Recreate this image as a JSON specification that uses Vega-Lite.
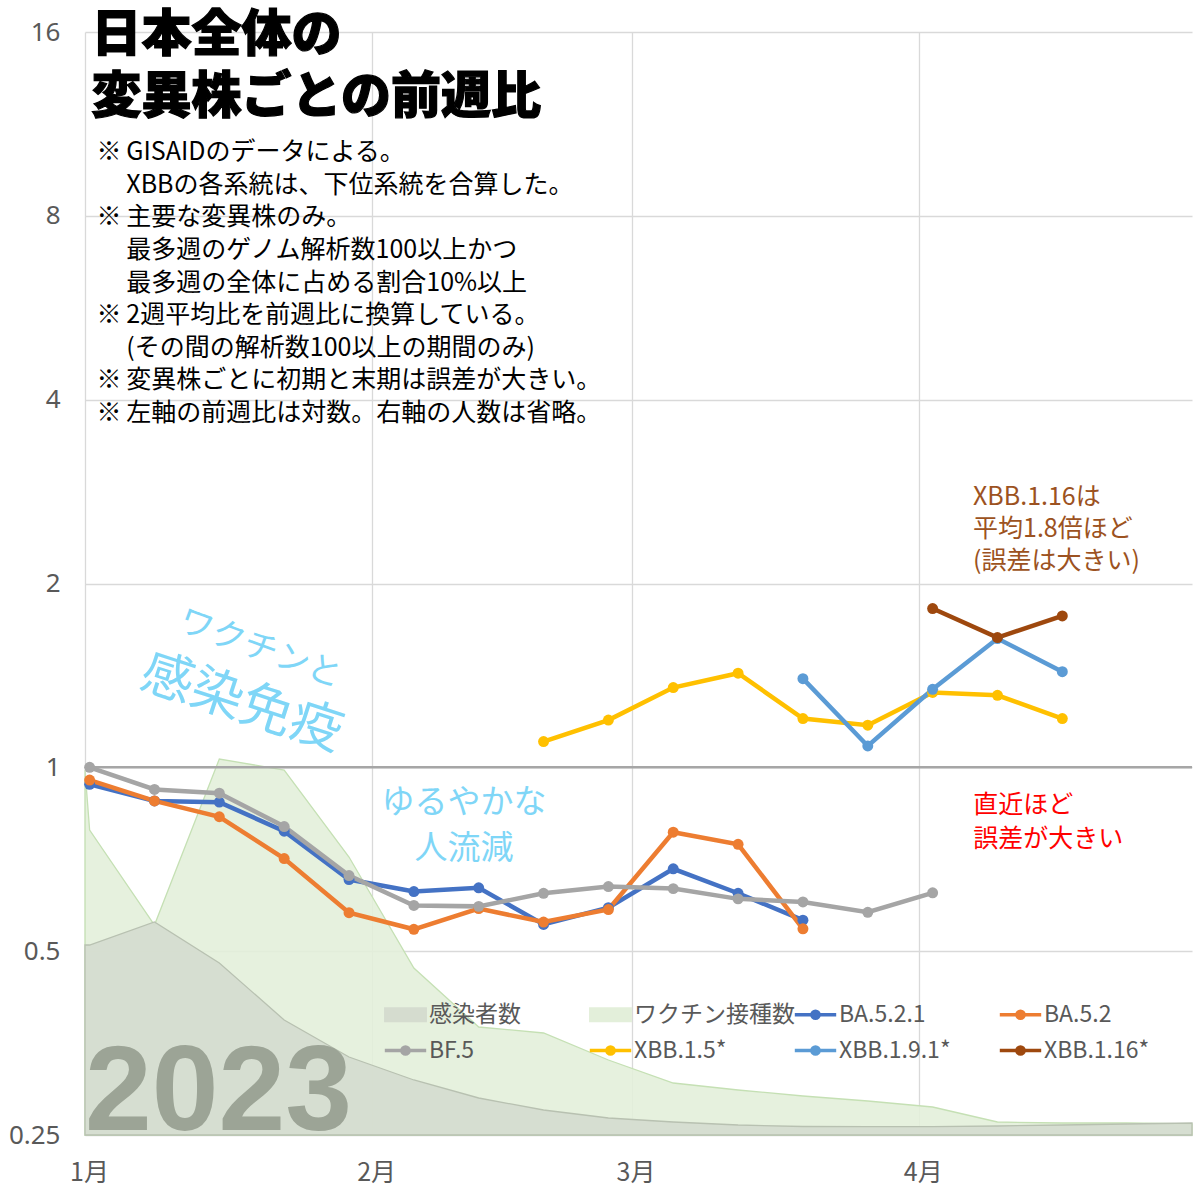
{
  "$schema": "https://vega.github.io/schema/vega-lite/v6.json",
  "width": 1107,
  "height": 1103,
  "autosize": {"type": "none"},
  "padding": {"left": 85, "top": 32, "right": 8, "bottom": 65},
  "background": "white",
  "config": {"view": {"stroke": null}, "font": "Noto Sans CJK JP"},
  "datasets": {
    "areas": [
      {"date": "2023-01-01T00:00:00", "series": "感染者数", "count": 190},
      {"date": "2023-01-01T12:00:00", "series": "感染者数", "count": 190},
      {"date": "2023-01-08T12:00:00", "series": "感染者数", "count": 213},
      {"date": "2023-01-15T12:00:00", "series": "感染者数", "count": 172},
      {"date": "2023-01-22T12:00:00", "series": "感染者数", "count": 115},
      {"date": "2023-01-29T12:00:00", "series": "感染者数", "count": 78},
      {"date": "2023-02-05T12:00:00", "series": "感染者数", "count": 55},
      {"date": "2023-02-12T12:00:00", "series": "感染者数", "count": 37},
      {"date": "2023-02-19T12:00:00", "series": "感染者数", "count": 25},
      {"date": "2023-02-26T12:00:00", "series": "感染者数", "count": 17},
      {"date": "2023-03-05T12:00:00", "series": "感染者数", "count": 13},
      {"date": "2023-03-12T12:00:00", "series": "感染者数", "count": 10},
      {"date": "2023-03-19T12:00:00", "series": "感染者数", "count": 8.5},
      {"date": "2023-03-26T12:00:00", "series": "感染者数", "count": 8.3},
      {"date": "2023-04-02T12:00:00", "series": "感染者数", "count": 8.3},
      {"date": "2023-04-09T12:00:00", "series": "感染者数", "count": 9},
      {"date": "2023-04-16T12:00:00", "series": "感染者数", "count": 10},
      {"date": "2023-04-23T12:00:00", "series": "感染者数", "count": 11},
      {"date": "2023-04-30T12:00:00", "series": "感染者数", "count": 12},
      {"date": "2023-01-01T00:00:00", "series": "ワクチン接種数", "count": 365},
      {"date": "2023-01-01T12:00:00", "series": "ワクチン接種数", "count": 305},
      {"date": "2023-01-08T12:00:00", "series": "ワクチン接種数", "count": 210},
      {"date": "2023-01-15T12:00:00", "series": "ワクチン接種数", "count": 376},
      {"date": "2023-01-22T12:00:00", "series": "ワクチン接種数", "count": 365},
      {"date": "2023-01-29T12:00:00", "series": "ワクチン接種数", "count": 278},
      {"date": "2023-02-05T12:00:00", "series": "ワクチン接種数", "count": 167},
      {"date": "2023-02-12T12:00:00", "series": "ワクチン接種数", "count": 108},
      {"date": "2023-02-19T12:00:00", "series": "ワクチン接種数", "count": 102},
      {"date": "2023-02-26T12:00:00", "series": "ワクチン接種数", "count": 75},
      {"date": "2023-03-05T12:00:00", "series": "ワクチン接種数", "count": 52},
      {"date": "2023-03-12T12:00:00", "series": "ワクチン接種数", "count": 45},
      {"date": "2023-03-19T12:00:00", "series": "ワクチン接種数", "count": 39},
      {"date": "2023-03-26T12:00:00", "series": "ワクチン接種数", "count": 34},
      {"date": "2023-04-02T12:00:00", "series": "ワクチン接種数", "count": 28},
      {"date": "2023-04-09T12:00:00", "series": "ワクチン接種数", "count": 13},
      {"date": "2023-04-16T12:00:00", "series": "ワクチン接種数", "count": 12},
      {"date": "2023-04-23T12:00:00", "series": "ワクチン接種数", "count": 12},
      {"date": "2023-04-30T12:00:00", "series": "ワクチン接種数", "count": 11}
    ],
    "lines": [
      {"date": "2023-01-01T12:00:00", "series": "BA.5.2.1", "ratio": 0.938},
      {"date": "2023-01-08T12:00:00", "series": "BA.5.2.1", "ratio": 0.881},
      {"date": "2023-01-15T12:00:00", "series": "BA.5.2.1", "ratio": 0.877},
      {"date": "2023-01-22T12:00:00", "series": "BA.5.2.1", "ratio": 0.786},
      {"date": "2023-01-29T12:00:00", "series": "BA.5.2.1", "ratio": 0.655},
      {"date": "2023-02-05T12:00:00", "series": "BA.5.2.1", "ratio": 0.626},
      {"date": "2023-02-12T12:00:00", "series": "BA.5.2.1", "ratio": 0.635},
      {"date": "2023-02-19T12:00:00", "series": "BA.5.2.1", "ratio": 0.553},
      {"date": "2023-02-26T12:00:00", "series": "BA.5.2.1", "ratio": 0.589},
      {"date": "2023-03-05T12:00:00", "series": "BA.5.2.1", "ratio": 0.682},
      {"date": "2023-03-12T12:00:00", "series": "BA.5.2.1", "ratio": 0.622},
      {"date": "2023-03-19T12:00:00", "series": "BA.5.2.1", "ratio": 0.562},
      {"date": "2023-01-01T12:00:00", "series": "BA.5.2", "ratio": 0.953},
      {"date": "2023-01-08T12:00:00", "series": "BA.5.2", "ratio": 0.881},
      {"date": "2023-01-15T12:00:00", "series": "BA.5.2", "ratio": 0.830},
      {"date": "2023-01-22T12:00:00", "series": "BA.5.2", "ratio": 0.709},
      {"date": "2023-01-29T12:00:00", "series": "BA.5.2", "ratio": 0.578},
      {"date": "2023-02-05T12:00:00", "series": "BA.5.2", "ratio": 0.543},
      {"date": "2023-02-12T12:00:00", "series": "BA.5.2", "ratio": 0.587},
      {"date": "2023-02-19T12:00:00", "series": "BA.5.2", "ratio": 0.558},
      {"date": "2023-02-26T12:00:00", "series": "BA.5.2", "ratio": 0.585},
      {"date": "2023-03-05T12:00:00", "series": "BA.5.2", "ratio": 0.783},
      {"date": "2023-03-12T12:00:00", "series": "BA.5.2", "ratio": 0.748},
      {"date": "2023-03-19T12:00:00", "series": "BA.5.2", "ratio": 0.544},
      {"date": "2023-01-01T12:00:00", "series": "BF.5", "ratio": 1.0},
      {"date": "2023-01-08T12:00:00", "series": "BF.5", "ratio": 0.920},
      {"date": "2023-01-15T12:00:00", "series": "BF.5", "ratio": 0.907},
      {"date": "2023-01-22T12:00:00", "series": "BF.5", "ratio": 0.800},
      {"date": "2023-01-29T12:00:00", "series": "BF.5", "ratio": 0.665},
      {"date": "2023-02-05T12:00:00", "series": "BF.5", "ratio": 0.594},
      {"date": "2023-02-12T12:00:00", "series": "BF.5", "ratio": 0.592},
      {"date": "2023-02-19T12:00:00", "series": "BF.5", "ratio": 0.622},
      {"date": "2023-02-26T12:00:00", "series": "BF.5", "ratio": 0.638},
      {"date": "2023-03-05T12:00:00", "series": "BF.5", "ratio": 0.633},
      {"date": "2023-03-12T12:00:00", "series": "BF.5", "ratio": 0.609},
      {"date": "2023-03-19T12:00:00", "series": "BF.5", "ratio": 0.602},
      {"date": "2023-03-26T12:00:00", "series": "BF.5", "ratio": 0.579},
      {"date": "2023-04-02T12:00:00", "series": "BF.5", "ratio": 0.623},
      {"date": "2023-02-19T12:00:00", "series": "XBB.1.5*", "ratio": 1.102},
      {"date": "2023-02-26T12:00:00", "series": "XBB.1.5*", "ratio": 1.195},
      {"date": "2023-03-05T12:00:00", "series": "XBB.1.5*", "ratio": 1.351},
      {"date": "2023-03-12T12:00:00", "series": "XBB.1.5*", "ratio": 1.426},
      {"date": "2023-03-19T12:00:00", "series": "XBB.1.5*", "ratio": 1.202},
      {"date": "2023-03-26T12:00:00", "series": "XBB.1.5*", "ratio": 1.172},
      {"date": "2023-04-02T12:00:00", "series": "XBB.1.5*", "ratio": 1.326},
      {"date": "2023-04-09T12:00:00", "series": "XBB.1.5*", "ratio": 1.312},
      {"date": "2023-04-16T12:00:00", "series": "XBB.1.5*", "ratio": 1.202},
      {"date": "2023-03-19T12:00:00", "series": "XBB.1.9.1*", "ratio": 1.397},
      {"date": "2023-03-26T12:00:00", "series": "XBB.1.9.1*", "ratio": 1.084},
      {"date": "2023-04-02T12:00:00", "series": "XBB.1.9.1*", "ratio": 1.342},
      {"date": "2023-04-09T12:00:00", "series": "XBB.1.9.1*", "ratio": 1.625},
      {"date": "2023-04-16T12:00:00", "series": "XBB.1.9.1*", "ratio": 1.434},
      {"date": "2023-04-02T12:00:00", "series": "XBB.1.16*", "ratio": 1.820},
      {"date": "2023-04-09T12:00:00", "series": "XBB.1.16*", "ratio": 1.631},
      {"date": "2023-04-16T12:00:00", "series": "XBB.1.16*", "ratio": 1.770}
    ]
  },
  "layer": [
    {
      "data": {"name": "areas"},
      "layer": [
        {
          "transform": [{"filter": "datum.series === 'ワクチン接種数'"}],
          "mark": {"type": "area", "fillOpacity": 0.88, "stroke": "#c5e0b4", "strokeWidth": 1.3},
          "encoding": {
            "x": {"field": "date", "type": "temporal",
              "scale": {"domain": [{"year": 2023, "month": 1, "date": 1}, {"year": 2023, "month": 4, "date": 30, "hours": 12}]},
              "axis": {"values": [{"year": 2023, "month": 1, "date": 1}, {"year": 2023, "month": 2, "date": 1}, {"year": 2023, "month": 3, "date": 1}, {"year": 2023, "month": 4, "date": 1}], "format": "%-m月", "title": null, "grid": true, "gridColor": "#d9d9d9", "gridWidth": 1.3, "domain": false, "ticks": false, "labelFlush": false, "labelPadding": 25, "labelOffset": 4, "labelFont": "Noto Sans CJK JP", "labelFontSize": 25, "labelColor": "#595959"}},
            "y": {"field": "count", "type": "quantitative", "stack": null, "scale": {"domain": [0, 1103], "nice": false}, "axis": null},
            "color": {"field": "series", "type": "nominal",
              "scale": {"domain": ["感染者数", "ワクチン接種数", "BA.5.2.1", "BA.5.2", "BF.5", "XBB.1.5*", "XBB.1.9.1*", "XBB.1.16*"], "range": ["#d5dccf", "#e3efda", "#4472c4", "#ed7d31", "#a5a5a5", "#ffc000", "#5b9bd5", "#9e480e"]},
              "legend": {"orient": "none", "legendX": 309, "legendY": 971, "direction": "horizontal", "columns": 4, "title": null, "padding": 0, "rowPadding": 12, "columnPadding": -8, "gridAlign": "all", "symbolSize": 1296, "labelOffset": 12, "labelFontSize": 23, "labelFont": "Noto Sans CJK JP", "labelColor": "#595959", "labelLimit": 300,
                "encode": {"symbols": {"update": {
                  "shape": {"signal": "datum.value === '感染者数' || datum.value === 'ワクチン接種数' ? 'M-1.15,-0.37H1.15V0.37H-1.15Z' : 'M-1.15,0H1.15M-0.2,0A0.2,0.2 0 1,1 0.2,0A0.2,0.2 0 1,1 -0.2,0Z'"},
                  "strokeWidth": {"signal": "datum.value === '感染者数' || datum.value === 'ワクチン接種数' ? 1.5 : 3.5"}}}}}}
          }
        },
        {
          "transform": [{"filter": "datum.series === '感染者数'"}],
          "mark": {"type": "area", "fillOpacity": 0.92, "stroke": "#b8c1b1", "strokeWidth": 1.3},
          "encoding": {
            "x": {"field": "date", "type": "temporal",
              "scale": {"domain": [{"year": 2023, "month": 1, "date": 1}, {"year": 2023, "month": 4, "date": 30, "hours": 12}]},
              "axis": {"values": [{"year": 2023, "month": 1, "date": 1}, {"year": 2023, "month": 2, "date": 1}, {"year": 2023, "month": 3, "date": 1}, {"year": 2023, "month": 4, "date": 1}], "format": "%-m月", "title": null, "grid": true, "gridColor": "#d9d9d9", "gridWidth": 1.3, "domain": false, "ticks": false, "labelFlush": false, "labelPadding": 25, "labelOffset": 4, "labelFont": "Noto Sans CJK JP", "labelFontSize": 25, "labelColor": "#595959"}},
            "y": {"field": "count", "type": "quantitative", "stack": null, "scale": {"domain": [0, 1103], "nice": false}, "axis": null},
            "color": {"field": "series", "type": "nominal",
              "scale": {"domain": ["感染者数", "ワクチン接種数", "BA.5.2.1", "BA.5.2", "BF.5", "XBB.1.5*", "XBB.1.9.1*", "XBB.1.16*"], "range": ["#d5dccf", "#e3efda", "#4472c4", "#ed7d31", "#a5a5a5", "#ffc000", "#5b9bd5", "#9e480e"]},
              "legend": {"orient": "none", "legendX": 309, "legendY": 971, "direction": "horizontal", "columns": 4, "title": null, "padding": 0, "rowPadding": 12, "columnPadding": -8, "gridAlign": "all", "symbolSize": 1296, "labelOffset": 12, "labelFontSize": 23, "labelFont": "Noto Sans CJK JP", "labelColor": "#595959", "labelLimit": 300,
                "encode": {"symbols": {"update": {
                  "shape": {"signal": "datum.value === '感染者数' || datum.value === 'ワクチン接種数' ? 'M-1.15,-0.37H1.15V0.37H-1.15Z' : 'M-1.15,0H1.15M-0.2,0A0.2,0.2 0 1,1 0.2,0A0.2,0.2 0 1,1 -0.2,0Z'"},
                  "strokeWidth": {"signal": "datum.value === '感染者数' || datum.value === 'ワクチン接種数' ? 1.5 : 3.5"}}}}}}
          }
        }
      ]
    },
    {
      "layer": [
        {
          "data": {"values": [{}]},
          "mark": {"type": "rule", "color": "#a6a6a6", "strokeWidth": 2.5},
          "encoding": {"y": {"datum": 1, "type": "quantitative"}}
        },
        {
          "data": {"name": "lines"},
          "mark": {"type": "line", "strokeWidth": 4.5, "point": {"filled": true, "size": 120, "opacity": 1}},
          "encoding": {
            "x": {"field": "date", "type": "temporal",
              "scale": {"domain": [{"year": 2023, "month": 1, "date": 1}, {"year": 2023, "month": 4, "date": 30, "hours": 12}]},
              "axis": {"values": [{"year": 2023, "month": 1, "date": 1}, {"year": 2023, "month": 2, "date": 1}, {"year": 2023, "month": 3, "date": 1}, {"year": 2023, "month": 4, "date": 1}], "format": "%-m月", "title": null, "grid": true, "gridColor": "#d9d9d9", "gridWidth": 1.3, "domain": false, "ticks": false, "labelFlush": false, "labelPadding": 25, "labelOffset": 4, "labelFont": "Noto Sans CJK JP", "labelFontSize": 25, "labelColor": "#595959"}},
            "y": {"field": "ratio", "type": "quantitative",
              "scale": {"type": "log", "base": 2, "domain": [0.25, 16], "nice": false},
              "axis": {"values": [0.25, 0.5, 1, 2, 4, 8, 16], "format": "~g", "title": null, "grid": true, "gridColor": "#d9d9d9", "gridWidth": 1.3, "domain": false, "ticks": false, "labelPadding": 25, "labelFont": "Noto Sans", "labelFontSize": 26, "labelColor": "#595959"}},
            "color": {"field": "series", "type": "nominal",
              "scale": {"domain": ["感染者数", "ワクチン接種数", "BA.5.2.1", "BA.5.2", "BF.5", "XBB.1.5*", "XBB.1.9.1*", "XBB.1.16*"], "range": ["#d5dccf", "#e3efda", "#4472c4", "#ed7d31", "#a5a5a5", "#ffc000", "#5b9bd5", "#9e480e"]},
              "legend": {"orient": "none", "legendX": 309, "legendY": 971, "direction": "horizontal", "columns": 4, "title": null, "padding": 0, "rowPadding": 12, "columnPadding": -8, "gridAlign": "all", "symbolSize": 1296, "labelOffset": 12, "labelFontSize": 23, "labelFont": "Noto Sans CJK JP", "labelColor": "#595959", "labelLimit": 300,
                "encode": {"symbols": {"update": {
                  "shape": {"signal": "datum.value === '感染者数' || datum.value === 'ワクチン接種数' ? 'M-1.15,-0.37H1.15V0.37H-1.15Z' : 'M-1.15,0H1.15M-0.2,0A0.2,0.2 0 1,1 0.2,0A0.2,0.2 0 1,1 -0.2,0Z'"},
                  "strokeWidth": {"signal": "datum.value === '感染者数' || datum.value === 'ワクチン接種数' ? 1.5 : 3.5"}}}}}}
          }
        },
        {
          "data": {"values": [{}]},
          "mark": {"type": "text", "text": ["日本全体の", "変異株ごとの前週比"], "font": "Noto Sans CJK JP", "fontSize": 50, "fontWeight": 900, "color": "#000000", "stroke": "#000000", "strokeWidth": 1.2, "align": "left", "baseline": "alphabetic", "lineHeight": 62},
          "encoding": {"x": {"datum": {"year": 2023, "month": 1, "date": 1, "hours": 17}, "type": "temporal"}, "y": {"datum": 14.9, "type": "quantitative"}}
        },
        {
          "data": {"values": [{}]},
          "mark": {"type": "text", "text": "※", "font": "Noto Sans CJK JP", "fontSize": 25, "color": "#000000", "align": "left", "baseline": "alphabetic"},
          "encoding": {"x": {"datum": {"year": 2023, "month": 1, "date": 2, "hours": 5, "minutes": 45}, "type": "temporal"}, "y": {"datum": 9.87, "type": "quantitative"}}
        },
        {
          "data": {"values": [{}]},
          "mark": {"type": "text", "text": "※", "font": "Noto Sans CJK JP", "fontSize": 25, "color": "#000000", "align": "left", "baseline": "alphabetic"},
          "encoding": {"x": {"datum": {"year": 2023, "month": 1, "date": 2, "hours": 5, "minutes": 45}, "type": "temporal"}, "y": {"datum": 7.72, "type": "quantitative"}}
        },
        {
          "data": {"values": [{}]},
          "mark": {"type": "text", "text": "※", "font": "Noto Sans CJK JP", "fontSize": 25, "color": "#000000", "align": "left", "baseline": "alphabetic"},
          "encoding": {"x": {"datum": {"year": 2023, "month": 1, "date": 2, "hours": 5, "minutes": 45}, "type": "temporal"}, "y": {"datum": 5.34, "type": "quantitative"}}
        },
        {
          "data": {"values": [{}]},
          "mark": {"type": "text", "text": ["※", "※"], "font": "Noto Sans CJK JP", "fontSize": 25, "color": "#000000", "align": "left", "baseline": "alphabetic", "lineHeight": 32.6},
          "encoding": {"x": {"datum": {"year": 2023, "month": 1, "date": 2, "hours": 5, "minutes": 45}, "type": "temporal"}, "y": {"datum": 4.176, "type": "quantitative"}}
        },
        {
          "data": {"values": [{}]},
          "mark": {"type": "text", "text": ["GISAIDのデータによる。", "XBBの各系統は、下位系統を合算した。", "主要な変異株のみ。", "最多週のゲノム解析数100以上かつ", "最多週の全体に占める割合10%以上", "2週平均比を前週比に換算している。", "(その間の解析数100以上の期間のみ)", "変異株ごとに初期と末期は誤差が大きい。", "左軸の前週比は対数。右軸の人数は省略。"], "font": "Noto Sans CJK JP", "fontSize": 25, "color": "#000000", "align": "left", "baseline": "alphabetic", "lineHeight": 32.6},
          "encoding": {"x": {"datum": {"year": 2023, "month": 1, "date": 5, "hours": 11}, "type": "temporal"}, "y": {"datum": 9.87, "type": "quantitative"}}
        },
        {
          "data": {"values": [{}]},
          "mark": {"type": "text", "text": "ワクチンと", "font": "Noto Sans CJK JP", "fontSize": 34, "color": "#7fd6f7", "align": "center", "baseline": "middle", "angle": 20},
          "encoding": {"x": {"datum": {"year": 2023, "month": 1, "date": 19, "hours": 21, "minutes": 36}, "type": "temporal"}, "y": {"datum": 1.561, "type": "quantitative"}}
        },
        {
          "data": {"values": [{}]},
          "mark": {"type": "text", "text": "感染免疫", "font": "Noto Sans CJK JP", "fontSize": 52, "color": "#7fd6f7", "align": "center", "baseline": "middle", "angle": 18},
          "encoding": {"x": {"datum": {"year": 2023, "month": 1, "date": 17, "hours": 22}, "type": "temporal"}, "y": {"datum": 1.273, "type": "quantitative"}}
        },
        {
          "data": {"values": [{}]},
          "mark": {"type": "text", "text": ["ゆるやかな", "人流減"], "font": "Noto Sans CJK JP", "fontSize": 33, "color": "#7fd6f7", "align": "center", "baseline": "middle", "lineHeight": 46},
          "encoding": {"x": {"datum": {"year": 2023, "month": 2, "date": 10, "hours": 21, "minutes": 50}, "type": "temporal"}, "y": {"datum": 0.873, "type": "quantitative"}}
        },
        {
          "data": {"values": [{}]},
          "mark": {"type": "text", "text": ["XBB.1.16は", "平均1.8倍ほど", "(誤差は大きい)"], "font": "Noto Sans CJK JP", "fontSize": 25, "color": "#9c5221", "align": "left", "baseline": "middle", "lineHeight": 31.7},
          "encoding": {"x": {"datum": {"year": 2023, "month": 4, "date": 6, "hours": 20, "minutes": 40}, "type": "temporal"}, "y": {"datum": 2.769, "type": "quantitative"}}
        },
        {
          "data": {"values": [{}]},
          "mark": {"type": "text", "text": ["直近ほど", "誤差が大きい"], "font": "Noto Sans CJK JP", "fontSize": 25, "color": "#ff0000", "align": "left", "baseline": "middle", "lineHeight": 33.4},
          "encoding": {"x": {"datum": {"year": 2023, "month": 4, "date": 6, "hours": 21}, "type": "temporal"}, "y": {"datum": 0.866, "type": "quantitative"}}
        },
        {
          "data": {"values": [{}]},
          "mark": {"type": "text", "text": "2023", "font": "Liberation Sans", "fontSize": 120, "fontWeight": "bold", "color": "#9ca496", "align": "left", "baseline": "alphabetic"},
          "encoding": {"x": {"datum": {"year": 2023, "month": 1, "date": 1}, "type": "temporal"}, "y": {"datum": 0.2552, "type": "quantitative"}}
        }
      ]
    }
  ],
  "resolve": {"scale": {"y": "independent"}}
}
